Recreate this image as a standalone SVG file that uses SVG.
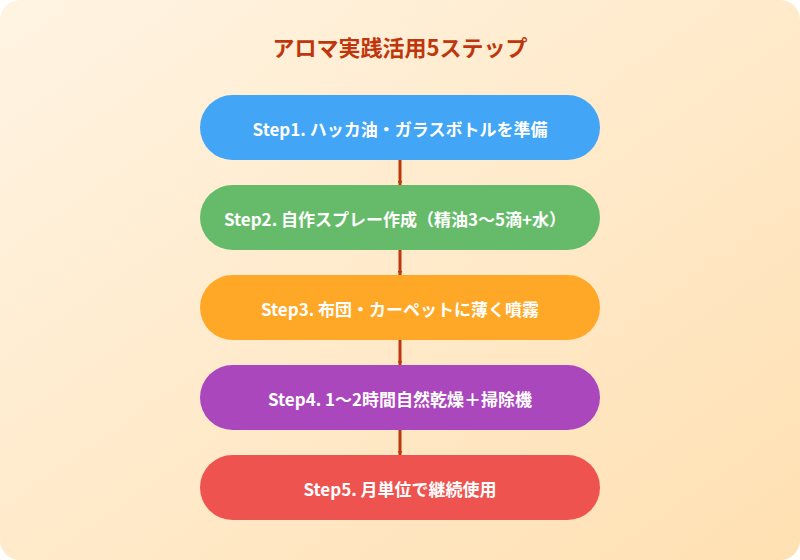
<svg xmlns="http://www.w3.org/2000/svg" width="800" height="560" viewBox="0 0 800 560">
<defs>
<linearGradient id="bg" x1="0" y1="0" x2="1" y2="1">
<stop offset="0" stop-color="#fff4e3"/><stop offset="1" stop-color="#ffe0b2"/>
</linearGradient>
<marker id="ah" viewBox="0 0 10 10" refX="9" refY="5" markerWidth="5" markerHeight="5" orient="auto" markerUnits="userSpaceOnUse">
<path d="M0,0 L10,5 L0,10 z" fill="#bf360c"/>
</marker>
<style>
.t{font-family:"Noto Sans CJK JP","Noto Sans",sans-serif;font-weight:bold;fill:#fff;font-size:17px;text-anchor:middle;dominant-baseline:central}
.c{stroke:#bf360c;stroke-width:3;fill:none}
</style>
</defs>
<rect x="0" y="0" width="800" height="560" rx="20" fill="url(#bg)"/>
<text x="400" y="46" font-family="Noto Sans CJK JP,sans-serif" font-weight="bold" font-size="22" fill="#bf360c" text-anchor="middle" dominant-baseline="central">アロマ実践活用5ステップ</text>
<g id="connectors">
<line class="c" x1="400" y1="160" x2="400" y2="185" marker-end="url(#ah)"/>
<line class="c" x1="400" y1="250" x2="400" y2="275" marker-end="url(#ah)"/>
<line class="c" x1="400" y1="340" x2="400" y2="365" marker-end="url(#ah)"/>
<line class="c" x1="400" y1="430" x2="400" y2="455" marker-end="url(#ah)"/>
</g>
<g id="step1"><rect x="200" y="95" width="400" height="65" rx="32.5" fill="#42a5f5"/><text class="t" x="400" y="128">Step1. ハッカ油・ガラスボトルを準備</text></g>
<g id="step2"><rect x="200" y="185" width="400" height="65" rx="32.5" fill="#66bb6a"/><text class="t" x="395" y="218">Step2. 自作スプレー作成（精油3〜5滴+水）</text></g>
<g id="step3"><rect x="200" y="275" width="400" height="65" rx="32.5" fill="#ffa726"/><text class="t" x="400" y="308">Step3. 布団・カーペットに薄く噴霧</text></g>
<g id="step4"><rect x="200" y="365" width="400" height="65" rx="32.5" fill="#ab47bc"/><text class="t" x="400" y="398">Step4. 1〜2時間自然乾燥＋掃除機</text></g>
<g id="step5"><rect x="200" y="455" width="400" height="65" rx="32.5" fill="#ef5350"/><text class="t" x="400" y="488">Step5. 月単位で継続使用</text></g>
</svg>
